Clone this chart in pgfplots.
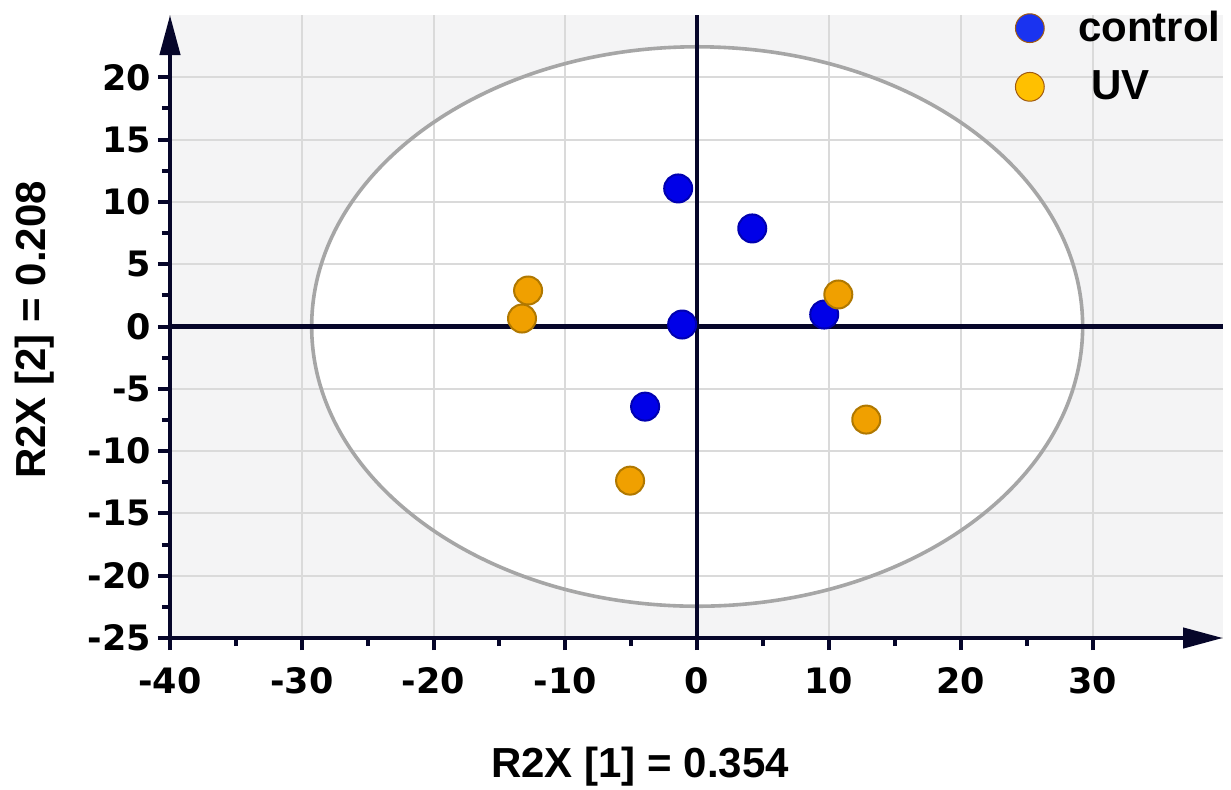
\documentclass[border=0pt]{standalone}
\usepackage{pgfplots}
\pgfplotsset{compat=1.18}
\usepackage{fontspec}
\setmainfont{Liberation Sans}
\newfontfamily\tickfont{DejaVu Sans}
\usetikzlibrary{arrows.meta}

\definecolor{navy}{HTML}{06062A}
\definecolor{bggrey}{HTML}{F4F4F5}
\definecolor{gridgrey}{HTML}{DADADA}
\definecolor{ellgrey}{HTML}{A6A6A6}
\definecolor{ctrl}{HTML}{0000E8}
\definecolor{ctrledge}{HTML}{0000B0}
\definecolor{uv}{HTML}{F0A000}
\definecolor{uvedge}{HTML}{B07800}
\definecolor{legctrl}{HTML}{1A33F0}
\definecolor{leguv}{HTML}{FFC000}
\definecolor{legedge}{HTML}{A05A10}

\begin{document}
\begin{tikzpicture}
\begin{axis}[
  set layers,
  scale only axis, width=526.5pt, height=311.5pt,
  xmin=-40, xmax=39.9, ymin=-25, ymax=25,
  axis lines=left,
  axis line style={navy, line width=2.2pt, -{Triangle[length=20pt,width=10pt]}},
  xtick={-40,-30,...,30}, ytick={-25,-20,...,20},
  minor x tick num=1, minor y tick num=1,
  tick align=outside, major tick length=6pt, minor tick length=4pt,
  tick style={navy, line width=2pt},
  grid=major, grid style={gridgrey, line width=1pt},
  /pgf/number format/assume math mode=true,
  ticklabel style={font=\tickfont\bfseries\fontsize{17.5}{20}\selectfont},
  xticklabel style={yshift=-5pt},
  xlabel={R2X [1] = 0.354},
  ylabel={R2X [2] = 0.208},
  label style={font=\bfseries\fontsize{21}{25}\selectfont},
  xlabel style={at={(axis description cs:0.4463,-0.2247)}, anchor=base},
  ylabel style={at={(axis description cs:-0.1187,0.4944)}, anchor=base},
  legend style={at={(axis description cs:0.8025,1.0128)}, anchor=north west, draw=none, fill=none,
    inner sep=0pt, row sep=9pt, font=\bfseries\fontsize{21}{25}\selectfont,
    /tikz/every odd column/.append style={column sep=15pt}},
  legend cell align=left,
]
\begin{pgfplotsonlayer}{axis background}
  \fill[bggrey] (rel axis cs:0,0) rectangle (rel axis cs:1,1);
  \fill[white] (axis cs:0,0) ellipse [x radius=29.25, y radius=22.45];
\end{pgfplotsonlayer}
\draw[ellgrey, line width=1.8pt] (axis cs:0,0) ellipse [x radius=29.25, y radius=22.45];

% zero lines
\addplot[navy, line width=2.2pt, forget plot] coordinates {(-40,0) (39.9,0)};
\addplot[navy, line width=2.2pt, forget plot] coordinates {(0,-25) (0,25)};

% control
\addplot[only marks, mark=*, mark size=7pt,
  mark options={fill=ctrl, draw=ctrledge, line width=1pt}, forget plot]
  coordinates {(-1.44,11.08) (4.18,7.87) (-1.14,0.16) (9.64,0.96) (-3.95,-6.43)};
% UV
\addplot[only marks, mark=*, mark size=7pt,
  mark options={fill=uv, draw=uvedge, line width=1pt}, forget plot]
  coordinates {(-13.29,0.64) (-12.83,2.89) (10.71,2.57) (12.83,-7.47) (-5.09,-12.37)};

\addlegendimage{only marks, mark=*, mark size=7.2pt, mark options={fill=legctrl, draw=legedge, line width=0.5pt}}
\addlegendentry{control}
\addlegendimage{only marks, mark=*, mark size=7.2pt, mark options={fill=leguv, draw=legedge, line width=0.5pt}}
\addlegendentry{\hspace{6.5pt}UV}
\end{axis}
\pgfresetboundingbox
\path (-85pt,-75.5pt) rectangle (530.5pt,319pt);
\end{tikzpicture}
\end{document}
